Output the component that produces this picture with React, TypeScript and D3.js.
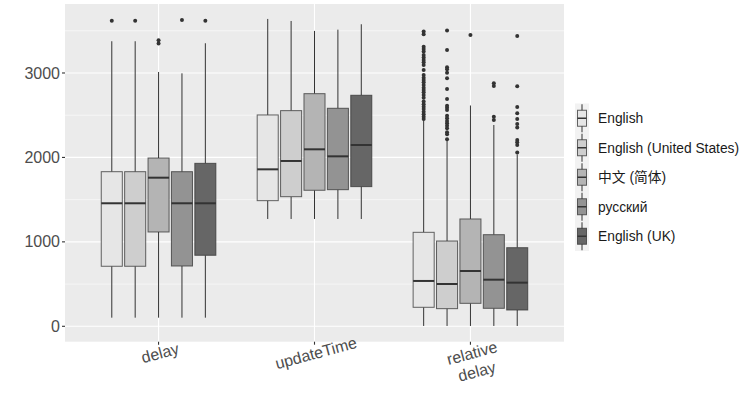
import * as d3 from "d3";

const categories = ["delay", "updateTime", "relative delay"];
const categoryLabels = [["delay"], ["updateTime"], ["relative", "delay"]];
const languages = ["English", "English (United States)", "中文 (简体)", "русский", "English (UK)"];
const fills = ["#E6E6E6", "#CECECE", "#B4B4B4", "#939393", "#666666"];
const yTicks = [0, 1000, 2000, 3000];
const yMinor = [500, 1500, 2500, 3500];

// [lower whisker, Q1, median, Q3, upper whisker], one row per language
const delayStats = [
  [102, 711, 1457, 1831, 3376],
  [102, 711, 1457, 1831, 3376],
  [102, 1117, 1760, 1993, 3012],
  [102, 714, 1457, 1831, 2996],
  [102, 841, 1457, 1930, 3352],
];
const delayOutliers = [[3620], [3620], [3387, 3350], [3628], [3620]];

const updateTimeStats = [
  [1271, 1488, 1859, 2503, 3640],
  [1271, 1535, 1958, 2554, 3616],
  [1271, 1611, 2096, 2755, 3498],
  [1271, 1618, 2013, 2582, 3513],
  [1271, 1654, 2147, 2736, 3577],
];
const updateTimeOutliers = [[], [], [], [], []];

const relativeStats = [
  [4, 225, 537, 1113, 2440],
  [4, 209, 501, 1010, 2200],
  [4, 272, 655, 1271, 2615],
  [4, 213, 552, 1085, 2384],
  [4, 193, 517, 931, 2035],
];
const relativeOutliers = [
  [3490, 3458, 3312, 3284, 3253, 3213, 3182, 3154, 3126, 3095, 3036, 2976, 2945, 2917, 2890, 2858, 2826, 2799, 2771, 2740, 2708, 2661, 2629, 2601, 2574, 2542, 2511, 2483, 2455],
  [3502, 3272, 3067, 3044, 3004, 2937, 2811, 2692, 2613, 2589, 2562, 2495, 2463, 2432, 2404, 2376, 2345, 2297, 2274, 2214],
  [3450],
  [2878, 2846, 2483, 2443],
  [3438, 2842, 2597, 2522, 2455, 2396, 2353, 2207, 2179, 2147, 2057],
];

const allStats = [delayStats, updateTimeStats, relativeStats];
const allOutliers = [delayOutliers, updateTimeOutliers, relativeOutliers];

const width = 747;
const height = 399;
const panel = { left: 65, right: 564, top: 4, bottom: 341.7 };
const font = "'Liberation Sans', Arial, 'Noto Sans CJK SC', sans-serif";
const ink = "#333333";

export default function App() {
  const y = d3.scaleLinear().domain([-182.4, 3817]).range([panel.bottom, panel.top]);
  const x = d3.scalePoint().domain(categories).range([panel.left, panel.right]).padding(0.6);
  const step = x.step();
  const dodge = d3
    .scaleBand()
    .domain(languages)
    .range([-0.375 * step, 0.375 * step])
    .paddingInner(0.1)
    .paddingOuter(0.05);
  const bw = dodge.bandwidth();
  const legendY = d3.scaleBand().domain(languages).range([103.5, 251]);

  return (
    <svg width={width} height={height} style={{ position: "absolute", left: 0, top: 0 }} fontFamily={font}>
      <rect x={0} y={0} width={width} height={height} fill="white" />
      <rect
        x={panel.left}
        y={panel.top}
        width={panel.right - panel.left}
        height={panel.bottom - panel.top}
        fill="#EBEBEB"
      />
      {yMinor.map((t) => (
        <line key={"mn" + t} x1={panel.left} x2={panel.right} y1={y(t)} y2={y(t)} stroke="white" strokeWidth={0.55} />
      ))}
      {yTicks.map((t) => (
        <line key={"mj" + t} x1={panel.left} x2={panel.right} y1={y(t)} y2={y(t)} stroke="white" strokeWidth={1.1} />
      ))}
      {categories.map((c) => (
        <line key={"vx" + c} x1={x(c)} x2={x(c)} y1={panel.top} y2={panel.bottom} stroke="white" strokeWidth={1.1} />
      ))}

      {categories.map((c, ci) =>
        languages.map((lang, li) => {
          const [lo, q1, med, q3, hi] = allStats[ci][li];
          const cx = (x(c) as number) + (dodge(lang) as number) + bw / 2;
          return (
            <g key={c + lang}>
              <line x1={cx} x2={cx} y1={y(hi)} y2={y(q3)} stroke={ink} strokeWidth={1} />
              <line x1={cx} x2={cx} y1={y(q1)} y2={y(lo)} stroke={ink} strokeWidth={1} />
              <rect
                x={cx - bw / 2}
                y={y(q3)}
                width={bw}
                height={y(q1) - y(q3)}
                fill={fills[li]}
                stroke={ink}
                strokeWidth={1}
                strokeOpacity={0.75}
              />
              <line x1={cx - bw / 2} x2={cx + bw / 2} y1={y(med)} y2={y(med)} stroke={ink} strokeWidth={2} />
              {allOutliers[ci][li].map((v, k) => (
                <circle key={k} cx={cx} cy={y(v)} r={2} fill={ink} />
              ))}
            </g>
          );
        })
      )}

      {yTicks.map((t) => (
        <g key={"yt" + t}>
          <line x1={panel.left - 3} x2={panel.left} y1={y(t)} y2={y(t)} stroke={ink} strokeWidth={1.1} />
          <text x={panel.left - 5} y={y(t)} dy="0.35em" textAnchor="end" fontSize={16} fill="#4D4D4D">
            {t}
          </text>
        </g>
      ))}
      {categories.map((c, ci) => (
        <g key={"xt" + c}>
          <line x1={x(c)} x2={x(c)} y1={panel.bottom} y2={panel.bottom + 3} stroke={ink} strokeWidth={1.1} />
          <text
            transform={`translate(${(x(c) as number) + 1.5},353) rotate(-15)`}
            textAnchor="middle"
            fontSize={16}
            fill="#4D4D4D"
          >
            {categoryLabels[ci].map((line, k) => (
              <tspan key={k} x={0} y={k * 19} dy="0.35em">
                {line}
              </tspan>
            ))}
          </text>
        </g>
      ))}

      <rect x={575} y={103.5} width={14} height={251 - 103.5} fill="#F2F2F2" />
      {languages.map((lang, li) => {
        const cy = (legendY(lang) as number) + legendY.bandwidth() / 2;
        return (
          <g key={"lg" + lang}>
            <line x1={582} x2={582} y1={cy - 14} y2={cy + 14} stroke={ink} strokeWidth={1} />
            <rect x={577.5} y={cy - 8} width={9} height={16} fill={fills[li]} stroke={ink} strokeWidth={1} strokeOpacity={0.75} />
            <line x1={577.5} x2={586.5} y1={cy} y2={cy} stroke={ink} strokeWidth={1.5} />
            <text x={598} y={cy} dy="0.35em" fontSize={13.8} fill="#1A1A1A">
              {lang}
            </text>
          </g>
        );
      })}
    </svg>
  );
}
